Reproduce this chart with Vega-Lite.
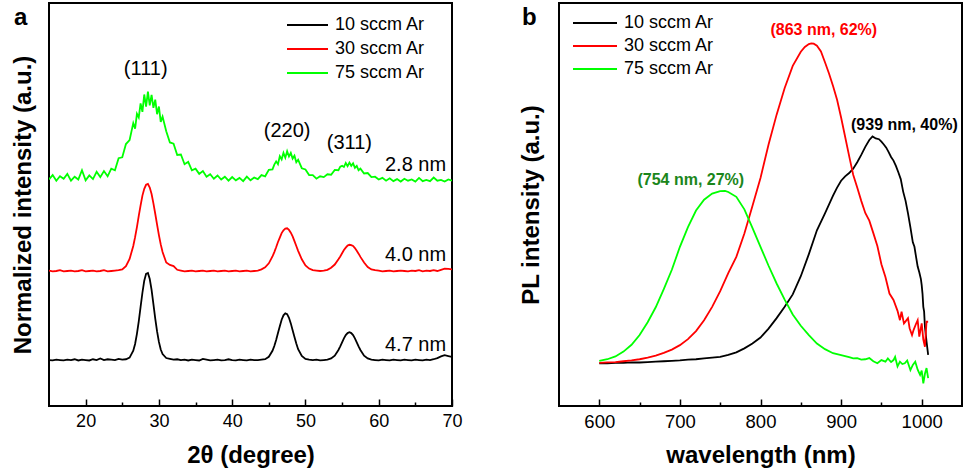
{
"$schema": "https://vega.github.io/schema/vega-lite/v6.json",
"padding": {"left": 10, "top": 2, "right": 0, "bottom": 0},
"bounds": "flush",
"spacing": 107,
"config": {
  "font": "Liberation Sans",
  "view": {"stroke": "#000000", "strokeWidth": 2},
  "axis": {"grid": false, "domain": false, "labelFont": "Liberation Sans", "titleFont": "Liberation Sans", "labelColor": "#000000", "titleColor": "#000000", "tickColor": "#000000", "tickWidth": 1.5, "labelFlush": false},
  "legend": {"orient": "none", "title": null, "symbolType": "stroke", "symbolStrokeWidth": 2, "labelFontSize": 18, "labelFont": "Liberation Sans", "labelColor": "#000000", "labelOffset": 6, "clipHeight": 20, "rowPadding": 4, "padding": 0},
  "text": {"color": "#000000"}
},
"datasets": {
  "xrd": [
{"x":15,"a":11.4,"b":33.6,"c":56.2},{"x":15.5,"a":11.3,"b":33.4,"c":57.3},{"x":16,"a":11.5,"b":33.5,"c":55.9},{"x":16.5,"a":11.4,"b":33.7,"c":57.0},
{"x":17,"a":11.3,"b":33.4,"c":56.4},{"x":17.5,"a":11.5,"b":33.5,"c":57.6},{"x":18,"a":11.4,"b":33.6,"c":55.9},{"x":18.5,"a":11.6,"b":33.4,"c":56.9},
{"x":19,"a":11.3,"b":33.5,"c":56.2},{"x":19.5,"a":11.5,"b":33.7,"c":58.5},{"x":20,"a":11.4,"b":33.4,"c":56.0},{"x":20.5,"a":11.3,"b":33.5,"c":57.2},
{"x":21,"a":11.6,"b":33.6,"c":56.3},{"x":21.5,"a":11.4,"b":33.4,"c":58.1},{"x":22,"a":11.8,"b":33.5,"c":56.8},{"x":22.5,"a":11.4,"b":33.7,"c":58.3},
{"x":23,"a":11.6,"b":33.4,"c":57.0},{"x":23.5,"a":11.5,"b":33.5,"c":58.9},{"x":24,"a":11.4,"b":33.6,"c":58.5},{"x":24.5,"a":11.7,"b":33.7,"c":61.5},
{"x":25,"a":11.5,"b":33.9,"c":61.7},{"x":25.5,"a":11.6,"b":34.7,"c":65.0},{"x":26,"a":12.0,"b":36.5,"c":66.0},{"x":26.5,"a":13.7,"b":39.7,"c":70.2},
{"x":26.75,"a":15.4,"b":41.9,"c":68.8},{"x":27,"a":17.9,"b":44.4,"c":72.5},{"x":27.25,"a":21.0,"b":47.2,"c":71.6},{"x":27.5,"a":24.6,"b":49.8,"c":75.1},
{"x":27.75,"a":28.1,"b":52.2,"c":73.0},{"x":28,"a":31.1,"b":53.9,"c":77.3},{"x":28.25,"a":32.8,"b":54.9,"c":74.3},{"x":28.5,"a":33.0,"b":55.1,"c":78.0},
{"x":28.75,"a":31.5,"b":54.2,"c":74.6},{"x":29,"a":28.8,"b":52.6,"c":77.2},{"x":29.25,"a":25.3,"b":50.3,"c":74.0},{"x":29.5,"a":21.7,"b":47.7,"c":76.0},
{"x":29.75,"a":18.5,"b":45.0,"c":72.4},{"x":30,"a":15.9,"b":42.4,"c":74.3},{"x":30.25,"a":14.0,"b":40.1,"c":70.5},{"x":30.5,"a":12.9,"b":38.2,"c":71.8},
{"x":31,"a":11.9,"b":35.6,"c":68.2},{"x":31.5,"a":11.7,"b":35.0,"c":65.4},{"x":32,"a":11.5,"b":34.7,"c":65.1},{"x":32.5,"a":11.6,"b":33.8,"c":62.3},
{"x":33,"a":11.4,"b":33.6,"c":62.4},{"x":33.5,"a":11.5,"b":33.4,"c":60.0},{"x":34,"a":11.3,"b":33.5,"c":60.6},{"x":34.5,"a":11.5,"b":33.6,"c":58.5},
{"x":35,"a":11.4,"b":33.4,"c":58.9},{"x":35.5,"a":11.3,"b":33.5,"c":57.6},{"x":36,"a":11.7,"b":33.6,"c":58.3},{"x":36.5,"a":11.5,"b":33.4,"c":56.9},
{"x":37,"a":11.3,"b":33.5,"c":57.5},{"x":37.5,"a":11.4,"b":33.6,"c":56.4},{"x":38,"a":11.5,"b":33.4,"c":57.2},{"x":38.5,"a":11.3,"b":33.5,"c":56.2},
{"x":39,"a":11.4,"b":33.6,"c":56.9},{"x":39.5,"a":11.6,"b":33.4,"c":55.9},{"x":40,"a":11.4,"b":33.5,"c":56.8},{"x":40.5,"a":11.3,"b":33.6,"c":56.0},
{"x":41,"a":11.5,"b":33.4,"c":56.6},{"x":41.5,"a":11.4,"b":33.5,"c":55.8},{"x":42,"a":11.3,"b":33.6,"c":56.9},{"x":42.5,"a":11.5,"b":33.4,"c":56.0},
{"x":43,"a":11.4,"b":33.5,"c":56.7},{"x":43.5,"a":11.4,"b":33.6,"c":56.3},{"x":44,"a":11.5,"b":33.9,"c":57.3},{"x":44.5,"a":11.6,"b":34.4,"c":57.0},
{"x":45,"a":12.2,"b":35.4,"c":58.6},{"x":45.5,"a":13.7,"b":37.1,"c":58.7},{"x":45.75,"a":14.9,"b":38.2,"c":59.9},{"x":46,"a":16.4,"b":39.4,"c":60.7},
{"x":46.25,"a":18.1,"b":40.7,"c":60.0},{"x":46.5,"a":19.8,"b":41.8,"c":62.0},{"x":46.75,"a":21.4,"b":42.9,"c":61.2},{"x":47,"a":22.5,"b":43.6,"c":62.8},
{"x":47.25,"a":23.0,"b":44.0,"c":61.6},{"x":47.5,"a":22.8,"b":44.1,"c":63.2},{"x":47.75,"a":21.9,"b":43.7,"c":61.9},{"x":48,"a":20.5,"b":43.0,"c":62.8},
{"x":48.25,"a":18.8,"b":42.1,"c":61.4},{"x":48.5,"a":17.1,"b":40.9,"c":62.1},{"x":48.75,"a":15.5,"b":39.7,"c":60.5},{"x":49,"a":14.1,"b":38.5,"c":61.1},
{"x":49.5,"a":12.4,"b":36.4,"c":59.0},{"x":50,"a":11.7,"b":34.9,"c":58.7},{"x":50.5,"a":11.5,"b":34.1,"c":57.3},{"x":51,"a":11.4,"b":33.7,"c":57.3},
{"x":51.5,"a":11.5,"b":33.6,"c":56.4},{"x":52,"a":11.3,"b":33.5,"c":57.0},{"x":52.5,"a":11.4,"b":33.6,"c":56.8},{"x":53,"a":11.5,"b":33.8,"c":57.5},
{"x":53.5,"a":11.8,"b":34.3,"c":57.4},{"x":54,"a":12.5,"b":35.1,"c":58.6},{"x":54.5,"a":13.9,"b":36.4,"c":58.5},{"x":54.75,"a":14.8,"b":37.1,"c":59.4},
{"x":55,"a":15.8,"b":37.9,"c":59.6},{"x":55.25,"a":16.8,"b":38.7,"c":59.3},{"x":55.5,"a":17.6,"b":39.3,"c":60.3},{"x":55.75,"a":18.1,"b":39.8,"c":59.5},
{"x":56,"a":18.3,"b":40.0,"c":60.4},{"x":56.25,"a":18.1,"b":39.9,"c":59.6},{"x":56.5,"a":17.6,"b":39.7,"c":60.2},{"x":56.75,"a":16.8,"b":39.2,"c":59.1},
{"x":57,"a":15.8,"b":38.5,"c":59.6},{"x":57.25,"a":14.8,"b":37.8,"c":58.5},{"x":57.5,"a":13.9,"b":37.0,"c":58.9},{"x":58,"a":12.5,"b":35.6,"c":57.7},
{"x":58.5,"a":11.8,"b":34.5,"c":57.8},{"x":59,"a":11.5,"b":33.9,"c":56.8},{"x":59.5,"a":11.4,"b":33.7,"c":56.9},{"x":60,"a":11.3,"b":33.6,"c":56.2},
{"x":60.5,"a":11.5,"b":33.4,"c":56.6},{"x":61,"a":11.4,"b":33.5,"c":55.9},{"x":61.5,"a":11.3,"b":33.6,"c":56.5},{"x":62,"a":11.5,"b":33.4,"c":55.8},
{"x":62.5,"a":11.4,"b":33.5,"c":56.3},{"x":63,"a":11.3,"b":33.6,"c":55.7},{"x":63.5,"a":11.5,"b":33.5,"c":56.4},{"x":64,"a":11.4,"b":33.4,"c":55.9},
{"x":64.5,"a":11.3,"b":33.6,"c":56.2},{"x":65,"a":11.5,"b":33.5,"c":55.7},{"x":65.5,"a":11.4,"b":33.7,"c":56.6},{"x":66,"a":11.3,"b":33.4,"c":55.8},
{"x":66.5,"a":11.5,"b":33.6,"c":56.1},{"x":67,"a":11.4,"b":33.5,"c":55.8},{"x":67.5,"a":11.6,"b":33.7,"c":56.7},{"x":68,"a":11.9,"b":33.5,"c":55.9},
{"x":68.5,"a":12.3,"b":33.8,"c":56.1},{"x":69,"a":12.6,"b":34.1,"c":55.7},{"x":69.5,"a":12.4,"b":34.0,"c":56.2},{"x":70,"a":12.2,"b":33.9,"c":55.9}
  ],
  "xrdPeaks": [{"x":28.2,"y":83.6,"t":"(111)"},{"x":47.5,"y":68.2,"t":"(220)"},{"x":56.0,"y":65.3,"t":"(311)"}],
  "xrdSizes": [{"x":69.2,"y":59.8,"t":"2.8 nm"},{"x":69.2,"y":37.5,"t":"4.0 nm"},{"x":69.2,"y":15.1,"t":"4.7 nm"}],
  "pl": [
{"s":"a","x":600,"y":10.6},{"s":"a","x":610,"y":10.6},{"s":"a","x":620,"y":10.7},{"s":"a","x":630,"y":10.7},{"s":"a","x":640,"y":10.8},{"s":"a","x":650,"y":10.8},
{"s":"a","x":660,"y":10.9},{"s":"a","x":670,"y":11.0},{"s":"a","x":680,"y":11.1},{"s":"a","x":690,"y":11.2},{"s":"a","x":700,"y":11.3},{"s":"a","x":710,"y":11.5},
{"s":"a","x":720,"y":11.6},{"s":"a","x":730,"y":11.8},{"s":"a","x":740,"y":12.0},{"s":"a","x":750,"y":12.2},{"s":"a","x":760,"y":12.7},{"s":"a","x":770,"y":13.3},
{"s":"a","x":780,"y":14.3},{"s":"a","x":790,"y":15.5},{"s":"a","x":800,"y":17.0},{"s":"a","x":810,"y":19.2},{"s":"a","x":820,"y":21.8},{"s":"a","x":830,"y":24.6},
{"s":"a","x":840,"y":27.7},{"s":"a","x":850,"y":32.2},{"s":"a","x":860,"y":37.7},{"s":"a","x":870,"y":43.6},{"s":"a","x":880,"y":47.8},{"s":"a","x":890,"y":52.2},
{"s":"a","x":895,"y":54.2},{"s":"a","x":900,"y":55.9},{"s":"a","x":905,"y":57.0},{"s":"a","x":910,"y":57.8},{"s":"a","x":915,"y":58.9},{"s":"a","x":920,"y":60.5},
{"s":"a","x":925,"y":62.3},{"s":"a","x":930,"y":64.3},{"s":"a","x":935,"y":66.0},{"s":"a","x":939,"y":66.9},{"s":"a","x":943,"y":66.4},{"s":"a","x":947,"y":66.2},
{"s":"a","x":950,"y":65.6},{"s":"a","x":953,"y":64.9},{"s":"a","x":956,"y":64.1},{"s":"a","x":959,"y":63.0},{"s":"a","x":962,"y":61.8},{"s":"a","x":965,"y":60.9},
{"s":"a","x":968,"y":59.6},{"s":"a","x":971,"y":58.0},{"s":"a","x":974,"y":56.3},{"s":"a","x":977,"y":53.2},{"s":"a","x":980,"y":50.9},{"s":"a","x":983,"y":47.8},
{"s":"a","x":986,"y":44.3},{"s":"a","x":989,"y":40.6},{"s":"a","x":991,"y":39.5},{"s":"a","x":993,"y":37.0},{"s":"a","x":995,"y":34.6},{"s":"a","x":997,"y":33.2},
{"s":"a","x":999,"y":31.5},{"s":"a","x":1000,"y":30.0},{"s":"a","x":1001,"y":27.9},{"s":"a","x":1002,"y":24.6},{"s":"a","x":1003,"y":23.4},{"s":"a","x":1004,"y":19.7},
{"s":"a","x":1006,"y":16.0},{"s":"a","x":1008,"y":12.7},
{"s":"b","x":600,"y":10.7},{"s":"b","x":610,"y":10.8},{"s":"b","x":620,"y":10.9},{"s":"b","x":630,"y":11.1},{"s":"b","x":640,"y":11.3},{"s":"b","x":650,"y":11.6},
{"s":"b","x":660,"y":12.0},{"s":"b","x":670,"y":12.5},{"s":"b","x":680,"y":13.2},{"s":"b","x":690,"y":14.0},{"s":"b","x":700,"y":15.1},{"s":"b","x":710,"y":16.6},
{"s":"b","x":720,"y":18.6},{"s":"b","x":730,"y":21.3},{"s":"b","x":740,"y":24.6},{"s":"b","x":750,"y":28.5},{"s":"b","x":760,"y":33.0},{"s":"b","x":770,"y":37.0},
{"s":"b","x":780,"y":42.8},{"s":"b","x":790,"y":49.6},{"s":"b","x":800,"y":56.6},{"s":"b","x":810,"y":64.9},{"s":"b","x":820,"y":72.3},{"s":"b","x":830,"y":78.9},
{"s":"b","x":840,"y":84.4},{"s":"b","x":850,"y":87.9},{"s":"b","x":855,"y":89.1},{"s":"b","x":860,"y":89.8},{"s":"b","x":863,"y":90.0},{"s":"b","x":866,"y":89.9},
{"s":"b","x":870,"y":89.4},{"s":"b","x":875,"y":88.0},{"s":"b","x":880,"y":85.3},{"s":"b","x":885,"y":82.5},{"s":"b","x":890,"y":79.4},{"s":"b","x":895,"y":76.0},
{"s":"b","x":900,"y":71.6},{"s":"b","x":905,"y":66.8},{"s":"b","x":910,"y":62.0},{"s":"b","x":915,"y":57.4},{"s":"b","x":920,"y":54.2},{"s":"b","x":925,"y":50.9},
{"s":"b","x":930,"y":47.9},{"s":"b","x":935,"y":46.0},{"s":"b","x":940,"y":42.9},{"s":"b","x":945,"y":39.7},{"s":"b","x":950,"y":35.2},{"s":"b","x":955,"y":32.0},
{"s":"b","x":960,"y":27.9},{"s":"b","x":965,"y":26.3},{"s":"b","x":970,"y":23.6},{"s":"b","x":973,"y":21.3},{"s":"b","x":975,"y":23.4},{"s":"b","x":978,"y":20.5},
{"s":"b","x":980,"y":21.0},{"s":"b","x":983,"y":21.8},{"s":"b","x":985,"y":19.3},{"s":"b","x":988,"y":17.6},{"s":"b","x":990,"y":18.9},{"s":"b","x":993,"y":20.4},
{"s":"b","x":995,"y":21.3},{"s":"b","x":997,"y":17.2},{"s":"b","x":1000,"y":20.5},{"s":"b","x":1002,"y":16.5},{"s":"b","x":1004,"y":14.7},{"s":"b","x":1006,"y":20.9},
{"s":"b","x":1008,"y":20.9},
{"s":"c","x":600,"y":11.2},{"s":"c","x":610,"y":11.6},{"s":"c","x":620,"y":12.3},{"s":"c","x":630,"y":13.5},{"s":"c","x":640,"y":15.2},{"s":"c","x":650,"y":17.6},
{"s":"c","x":660,"y":20.8},{"s":"c","x":670,"y":24.5},{"s":"c","x":680,"y":29.0},{"s":"c","x":690,"y":33.8},{"s":"c","x":700,"y":39.5},{"s":"c","x":710,"y":44.4},
{"s":"c","x":720,"y":48.5},{"s":"c","x":730,"y":51.2},{"s":"c","x":740,"y":52.7},{"s":"c","x":750,"y":53.3},{"s":"c","x":756,"y":53.4},{"s":"c","x":760,"y":53.1},
{"s":"c","x":770,"y":51.9},{"s":"c","x":780,"y":48.8},{"s":"c","x":790,"y":44.2},{"s":"c","x":800,"y":39.5},{"s":"c","x":810,"y":34.8},{"s":"c","x":820,"y":30.4},
{"s":"c","x":830,"y":26.4},{"s":"c","x":840,"y":22.7},{"s":"c","x":850,"y":19.9},{"s":"c","x":860,"y":17.6},{"s":"c","x":870,"y":15.5},{"s":"c","x":880,"y":14.1},
{"s":"c","x":890,"y":13.1},{"s":"c","x":900,"y":12.6},{"s":"c","x":910,"y":12.1},{"s":"c","x":915,"y":11.8},{"s":"c","x":920,"y":11.9},{"s":"c","x":925,"y":11.5},
{"s":"c","x":930,"y":11.6},{"s":"c","x":935,"y":11.9},{"s":"c","x":940,"y":11.1},{"s":"c","x":945,"y":10.6},{"s":"c","x":950,"y":11.4},{"s":"c","x":955,"y":11.0},
{"s":"c","x":958,"y":11.8},{"s":"c","x":962,"y":10.9},{"s":"c","x":965,"y":11.4},{"s":"c","x":967,"y":12.2},{"s":"c","x":970,"y":9.8},{"s":"c","x":973,"y":11.0},
{"s":"c","x":976,"y":10.4},{"s":"c","x":979,"y":10.6},{"s":"c","x":982,"y":11.3},{"s":"c","x":986,"y":8.9},{"s":"c","x":989,"y":10.2},{"s":"c","x":992,"y":11.0},
{"s":"c","x":995,"y":9.0},{"s":"c","x":998,"y":7.7},{"s":"c","x":1000,"y":8.8},{"s":"c","x":1002,"y":5.6},{"s":"c","x":1004,"y":8.0},{"s":"c","x":1006,"y":9.4},
{"s":"c","x":1008,"y":6.9}
  ],
  "plPeaks": [{"s":"b","x":878.5,"y":93.3,"t":"(863 nm, 62%)"},{"s":"a","x":978.5,"y":69.7,"t":"(939 nm, 40%)"},{"s":"c","x":713.5,"y":56.1,"t":"(754 nm, 27%)"}]
},
"hconcat": [
  {
    "width": 403, "height": 403,
    "title": {"text": "a", "anchor": "start", "frame": "group", "fontSize": 24, "fontWeight": "bold", "color": "#000000", "dx": -35, "dy": 31},
    "layer": [
      {
        "data": {"name": "xrd"},
        "transform": [{"fold": ["a", "b", "c"], "as": ["s", "v"]}],
        "mark": {"type": "line", "strokeWidth": 1.8, "clip": true},
        "encoding": {
          "x": {"field": "x", "type": "quantitative", "scale": {"domain": [15, 70], "nice": false, "zero": false},
                "axis": {"title": "2θ (degree)", "values": [20,25,30,35,40,45,50,55,60,65,70], "labelExpr": "datum.value % 10 === 0 ? datum.label : ''", "tickSize": {"condition": {"test": "datum.value % 10 === 0", "value": -7}, "value": -4}, "labelFontSize": 18, "labelPadding": 13, "titleFontSize": 24, "titleFontWeight": "bold", "titlePadding": 13}},
          "y": {"field": "v", "type": "quantitative", "scale": {"domain": [0, 100], "nice": false},
                "axis": {"title": "Normalized intensity (a.u.)", "labels": false, "ticks": false, "titleFontSize": 24, "titleFontWeight": "bold", "titlePadding": 14}},
          "color": {"field": "s", "type": "nominal", "scale": {"domain": ["a", "b", "c"], "range": ["#000000", "#ff0000", "#00ff00"]},
                    "legend": {"legendX": 237, "legendY": 12, "symbolSize": 1681, "labelExpr": "datum.label == 'a' ? '10 sccm Ar' : datum.label == 'b' ? '30 sccm Ar' : '75 sccm Ar'"}}
        }
      },
      {
        "data": {"name": "xrdPeaks"},
        "mark": {"type": "text", "fontSize": 20, "align": "center", "baseline": "middle", "color": "#000000"},
        "encoding": {"x": {"field": "x", "type": "quantitative"}, "y": {"field": "y", "type": "quantitative"}, "text": {"field": "t"}}
      },
      {
        "data": {"name": "xrdSizes"},
        "mark": {"type": "text", "fontSize": 20, "align": "right", "baseline": "middle", "color": "#000000"},
        "encoding": {"x": {"field": "x", "type": "quantitative"}, "y": {"field": "y", "type": "quantitative"}, "text": {"field": "t"}}
      }
    ]
  },
  {
    "width": 403, "height": 403,
    "title": {"text": "b", "anchor": "start", "frame": "group", "fontSize": 24, "fontWeight": "bold", "color": "#000000", "dx": -37, "dy": 31},
    "layer": [
      {
        "data": {"name": "pl"},
        "mark": {"type": "line", "strokeWidth": 1.8, "clip": true},
        "encoding": {
          "x": {"field": "x", "type": "quantitative", "scale": {"domain": [550, 1050], "nice": false, "zero": false},
                "axis": {"title": "wavelength (nm)", "format": "d", "values": [600,650,700,750,800,850,900,950,1000], "labelExpr": "datum.value % 100 === 0 ? datum.label : ''", "tickSize": {"condition": {"test": "datum.value % 100 === 0", "value": -7}, "value": -4}, "labelFontSize": 18.5, "labelPadding": 13, "titleFontSize": 24, "titleFontWeight": "bold", "titlePadding": 13}},
          "y": {"field": "y", "type": "quantitative", "scale": {"domain": [0, 100], "nice": false},
                "axis": {"title": "PL intensity (a.u.)", "labels": false, "ticks": false, "titleFontSize": 24, "titleFontWeight": "bold", "titlePadding": 16}},
          "color": {"field": "s", "type": "nominal", "scale": {"domain": ["a", "b", "c"], "range": ["#000000", "#ff0000", "#00ff00"]},
                    "legend": {"legendX": 13, "legendY": 10, "symbolSize": 1936, "rowPadding": 3, "labelExpr": "datum.label == 'a' ? '10 sccm Ar' : datum.label == 'b' ? '30 sccm Ar' : '75 sccm Ar'"}}
        }
      },
      {
        "data": {"name": "plPeaks"},
        "transform": [{"filter": "datum.s == 'b'"}],
        "mark": {"type": "text", "fontSize": 16, "fontWeight": "bold", "align": "center", "baseline": "middle", "color": "#ff0000"},
        "encoding": {"x": {"field": "x", "type": "quantitative"}, "y": {"field": "y", "type": "quantitative"}, "text": {"field": "t"}}
      },
      {
        "data": {"name": "plPeaks"},
        "transform": [{"filter": "datum.s == 'a'"}],
        "mark": {"type": "text", "fontSize": 16, "fontWeight": "bold", "align": "center", "baseline": "middle", "color": "#000000"},
        "encoding": {"x": {"field": "x", "type": "quantitative"}, "y": {"field": "y", "type": "quantitative"}, "text": {"field": "t"}}
      },
      {
        "data": {"name": "plPeaks"},
        "transform": [{"filter": "datum.s == 'c'"}],
        "mark": {"type": "text", "fontSize": 16, "fontWeight": "bold", "align": "center", "baseline": "middle", "color": "#1b861b"},
        "encoding": {"x": {"field": "x", "type": "quantitative"}, "y": {"field": "y", "type": "quantitative"}, "text": {"field": "t"}}
      }
    ]
  }
],
"resolve": {"scale": {"color": "independent", "x": "independent", "y": "independent"}, "legend": {"color": "independent"}}
}
